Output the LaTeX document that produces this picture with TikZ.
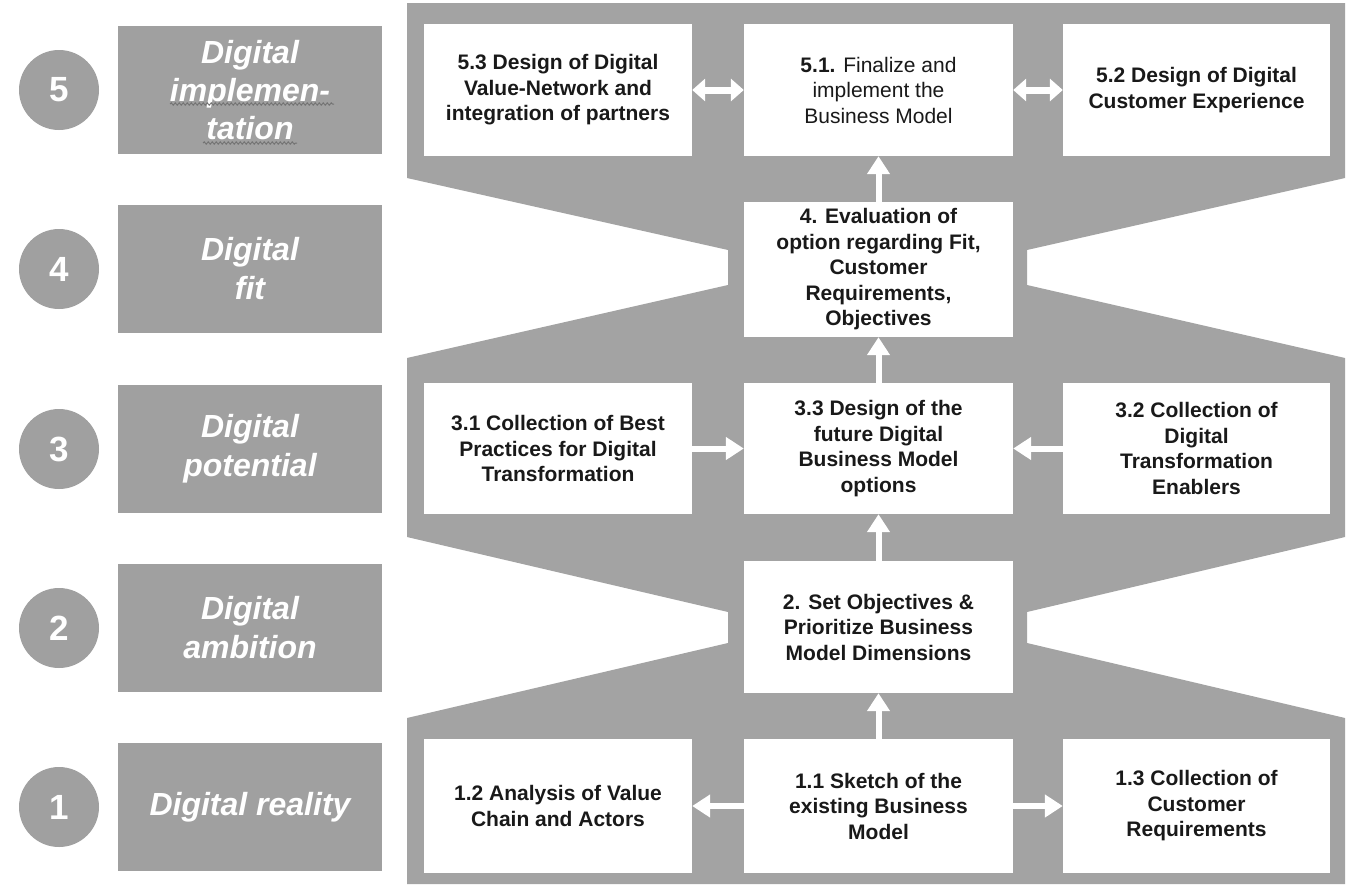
\documentclass[tikz,border=0pt]{standalone}
\usepackage{fontspec}
\setmainfont{Liberation Sans}
\usetikzlibrary{arrows.meta,decorations.pathmorphing}
\definecolor{bggray}{RGB}{163,163,163}
\definecolor{lblgray}{RGB}{160,160,160}
\definecolor{txt}{RGB}{25,25,25}
\definecolor{squigc}{RGB}{115,115,115}
\tikzset{
  boxw/.style={fill=white, draw=none, inner sep=0pt, align=center, text=txt,
    font=\fontsize{21}{25.5}\selectfont\bfseries},
  lbl/.style={fill=lblgray, draw=none, minimum width=264pt, minimum height=128pt, inner sep=0pt,
    align=center, text=white, font=\fontsize{32}{39}\selectfont\bfseries\itshape},
  num/.style={circle, fill=lblgray, draw=none, minimum size=80pt, inner sep=0pt, text=white,
    font=\fontsize{35}{35}\selectfont\bfseries},
  arr/.style={white, line width=6pt, -{Triangle[width=22pt,length=18pt]}},
  darr/.style={white, line width=7pt, {Triangle[width=22pt,length=13pt]}-{Triangle[width=22pt,length=13pt]}},
  squigline/.style={squigc, line width=1pt, decorate, decoration={snake, amplitude=1.1pt, segment length=4pt}}
}
\begin{document}
\begin{tikzpicture}[x=1pt,y=-1pt]
\useasboundingbox (0,0) rectangle (1351,886);
\fill[white] (0,0) rectangle (1351,886);
% gray hourglass background
\fill[bggray] (407,3) -- (1345,3) -- (1345,178) -- (1027,250) -- (1027,285) -- (1345,358)
  -- (1345,537) -- (1027,612) -- (1027,643) -- (1345,718) -- (1345,884) -- (407,884)
  -- (407,718) -- (728,643) -- (728,612) -- (407,537) -- (407,358) -- (728,285)
  -- (728,250) -- (407,178) -- cycle;
% circles
\node[num] (c5) at (59,90) {5};
\node[num] (c4) at (59,269) {4};
\node[num] (c3) at (59,449) {3};
\node[num] (c2) at (59,628) {2};
\node[num] (c1) at (59,807) {1};
% stage labels
\node[lbl, font=\fontsize{32}{38}\selectfont\bfseries\itshape] (l5) at (250,90) {Digital\\implemen-\\tation};
\draw[squigline] (170,104) -- (334,104);
\draw[squigline] (203,143) -- (297,143);
\node[lbl] (l4) at (250,269) {Digital\\fit};
\node[lbl] (l3) at (250,449) {Digital\\potential};
\node[lbl] (l2) at (250,628) {Digital\\ambition};
\node[lbl] (l1) at (250,807) {Digital reality};
% boxes
\node[boxw, minimum width=268pt, minimum height=132pt] (b53) at (558,90) {5.3 Design of Digital\\Value-Network and\\integration of partners};
\node[boxw, minimum width=269pt, minimum height=132pt, font=\fontsize{21}{25.5}\selectfont] (b51) at (878.5,90) {\textbf{5.1.} Finalize and\\implement the\\Business Model};
\node[boxw, minimum width=267pt, minimum height=132pt] (b52) at (1196.5,90) {5.2 Design of Digital\\Customer Experience};
\node[boxw, minimum width=269pt, minimum height=135pt] (b4) at (878.5,269.5) {4. Evaluation of\\option regarding Fit,\\Customer\\Requirements,\\Objectives};
\node[boxw, minimum width=268pt, minimum height=131pt] (b31) at (558,448.5) {3.1 Collection of Best\\Practices for Digital\\Transformation};
\node[boxw, minimum width=269pt, minimum height=131pt] (b33) at (878.5,448.5) {3.3 Design of the\\future Digital\\Business Model\\options};
\node[boxw, minimum width=267pt, minimum height=131pt] (b32) at (1196.5,448.5) {3.2 Collection of\\Digital\\Transformation\\Enablers};
\node[boxw, minimum width=269pt, minimum height=132pt] (b2) at (878.5,627) {2. Set Objectives \&\\Prioritize Business\\Model Dimensions};
\node[boxw, minimum width=268pt, minimum height=134pt] (b12) at (558,806) {1.2 Analysis of Value\\Chain and Actors};
\node[boxw, minimum width=269pt, minimum height=134pt] (b11) at (878.5,806) {1.1 Sketch of the\\existing Business\\Model};
\node[boxw, minimum width=267pt, minimum height=134pt] (b13) at (1196.5,806) {1.3 Collection of\\Customer\\Requirements};
% arrows
\draw[arr] (b11.north) -- (b2.south);
\draw[arr] (b2.north) -- (b33.south);
\draw[arr] (b33.north) -- (b4.south);
\draw[arr] (b4.north) -- (b51.south);
\draw[arr] (b31.east) -- (b33.west);
\draw[arr] (b32.west) -- (b33.east);
\draw[arr] (b11.west) -- (b12.east);
\draw[arr] (b11.east) -- (b13.west);
\draw[darr] (b53.east) -- (b51.west);
\draw[darr] (b51.east) -- (b52.west);
\end{tikzpicture}
\end{document}
